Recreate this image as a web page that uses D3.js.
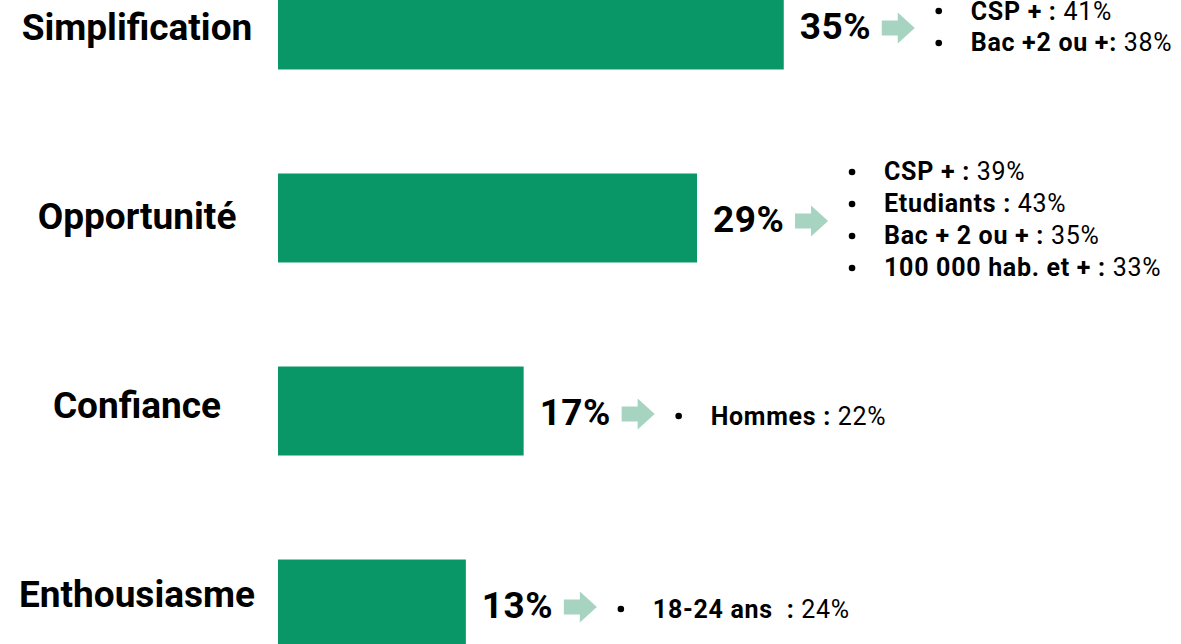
<!DOCTYPE html>
<html>
<head>
<meta charset="utf-8">
<script src="https://cdn.jsdelivr.net/npm/d3@7"></script>
<style>
  body { margin: 0; background: #fff; }
  svg { display: block; font-family: Roboto, "Noto Sans", sans-serif; }
  .detail { white-space: pre; }
</style>
</head>
<body>
<svg id="chart" width="1181" height="644"></svg>
<script>
// chart data
const categories = ["Simplification", "Opportunité", "Confiance", "Enthousiasme"];
const values = [35, 29, 17, 13];
const detailLabels = [
  ["CSP + :", "Bac +2 ou +:"],
  ["CSP + :", "Etudiants :", "Bac + 2 ou + :", "100 000 hab. et + :"],
  ["Hommes :"],
  ["18-24 ans  :"]
];
const detailValues = [
  [41, 38],
  [39, 43, 35, 33],
  [22],
  [24]
];

const svg = d3.select("#chart");

const x = d3.scaleLinear().domain([0, 40]).range([278, 856]);
const y = d3.scaleBand()
  .domain(categories)
  .range([-19.5, 648.5])
  .paddingInner(0.539)
  .paddingOuter(0);
// category names sit on their own baselines, drifting a little upward from the bars
const yLabel = d3.scalePoint().domain(categories).range([40, 607]);

const barColor = "#0a9767";
const arrowColor = "#a7d3c1";
const lineGap = 32;

categories.forEach((cat, i) => {
  const cy = y(cat) + y.bandwidth() / 2;
  const xEnd = x(values[i]);

  // bar
  svg.append("rect")
    .attr("x", x(0))
    .attr("y", y(cat))
    .attr("width", xEnd - x(0))
    .attr("height", y.bandwidth())
    .attr("fill", barColor);

  // category label
  svg.append("text")
    .attr("x", 137)
    .attr("y", yLabel(cat))
    .attr("text-anchor", "middle")
    .attr("font-size", 37)
    .attr("font-weight", 700)
    .attr("fill", "#000")
    .text(cat);

  // value label
  svg.append("text")
    .attr("x", xEnd + 16)
    .attr("y", cy + 14)
    .attr("font-size", 37)
    .attr("font-weight", 700)
    .attr("letter-spacing", 0.5)
    .attr("fill", "#000")
    .text(values[i] + "%");

  // arrow
  const ax = xEnd + 98, ay = cy + 3;
  svg.append("path")
    .attr("d", `M${ax},${ay - 7.5} H${ax + 16} V${ay - 15.5} L${ax + 33},${ay} L${ax + 16},${ay + 15.5} V${ay + 7.5} H${ax} Z`)
    .attr("fill", arrowColor);

  // detail bullets
  const n = detailLabels[i].length;
  const shift = n === 1 ? 5 : 2;
  detailLabels[i].forEach((lab, j) => {
    const ly = cy + shift + (j - (n - 1) / 2) * lineGap;
    svg.append("circle")
      .attr("cx", xEnd + 155)
      .attr("cy", ly)
      .attr("r", 3.3)
      .attr("fill", "#000");
    const t = svg.append("text")
      .attr("class", "detail")
      .attr("x", xEnd + 187)
      .attr("y", ly + 8.5)
      .attr("font-size", 25)
      .attr("letter-spacing", 0.7)
      .attr("fill", "#000");
    t.append("tspan").attr("font-weight", 700).text(lab);
    t.append("tspan").attr("font-weight", 400).text(" " + detailValues[i][j] + "%");
  });
});
</script>
</body>
</html>
